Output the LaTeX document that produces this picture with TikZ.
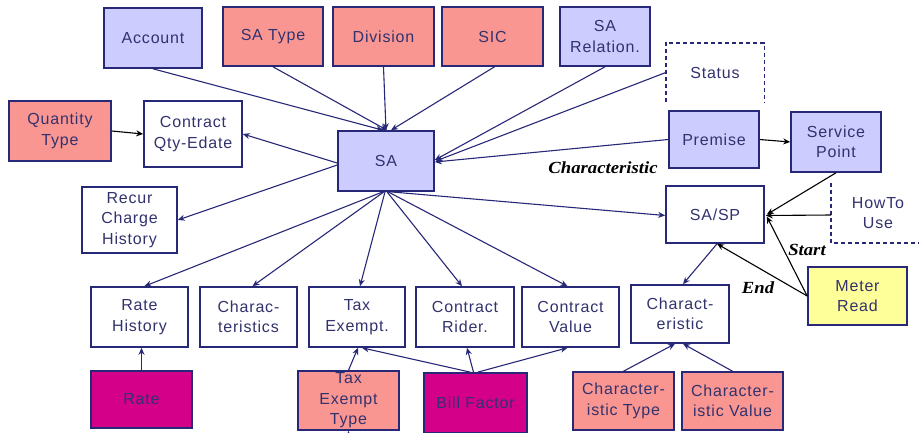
\documentclass[tikz,border=0pt]{standalone}
\usepackage{fontspec}
\setmainfont{Liberation Sans}[LetterSpace=5]
\newfontfamily\lblfont{Liberation Serif}
\usetikzlibrary{arrows.meta,calc}
\definecolor{navy}{RGB}{40,40,120}
\definecolor{txtc}{RGB}{50,50,110}
\definecolor{lav}{RGB}{204,204,255}
\definecolor{salm}{RGB}{250,150,145}
\definecolor{mag}{RGB}{212,0,138}
\definecolor{yel}{RGB}{255,255,153}
\tikzset{
  box/.style={draw=navy,line width=1.6pt,rectangle,align=center,text=txtc,
    font=\fontsize{16}{20.5}\selectfont,inner sep=0pt},
  lavbox/.style={box,fill=lav},
  salbox/.style={box,fill=salm},
  magbox/.style={box,fill=mag},
  yelbox/.style={box,fill=yel},
  whbox/.style={box,fill=white},
  plain/.style={rectangle,align=center,text=txtc,font=\fontsize{16}{20.5}\selectfont,inner sep=0pt},
  arr/.style={draw=navy,line width=1.1pt,-{Stealth[length=7pt,width=6pt]}},
  barr/.style={draw=black,line width=1.1pt,-{Stealth[length=7pt,width=6pt]}},
  dsh/.style={draw=navy,line width=1.4pt,dash pattern=on 4pt off 3pt},
  lbl/.style={font=\lblfont\bfseries\itshape\fontsize{17}{19}\selectfont,text=black,xscale=1.1,inner sep=0pt}
}
\begin{document}
\begin{tikzpicture}[x=1pt,y=-1pt]
\useasboundingbox[fill=white] (0,0) rectangle (919,432);
% top row
\node[lavbox,minimum width=98,minimum height=60] (acc) at (153,38) {Account};
\node[salbox,minimum width=100,minimum height=59] (sat) at (273,36.5) {SA Type};
\node[salbox,minimum width=101,minimum height=59] (div) at (383.5,36.5) {Division};
\node[salbox,minimum width=101,minimum height=59] (sic) at (492.5,36.5) {SIC};
\node[lavbox,minimum width=90,minimum height=59] (sar) at (605,36.5) {SA\\Relation.};
\node[plain,minimum width=98,minimum height=59] (st) at (715,72.5) {Status};
\draw[dsh] (st.south west) -- (st.north west) -- (st.north east) -- (st.south east);
% middle
\node[lavbox,minimum width=90,minimum height=57] (pre) at (714,139.5) {Premise};
\node[lavbox,minimum width=90,minimum height=60] (sp) at (836,142) {Service\\Point};
\node[salbox,minimum width=102,minimum height=60] (qt) at (60,131) {Quantity\\Type};
\node[whbox,minimum width=98,minimum height=66] (cqe) at (193,134) {Contract\\Qty-Edate};
\node[lavbox,minimum width=96,minimum height=60] (sa) at (386,161) {SA};
\node[whbox,minimum width=95,minimum height=66] (rch) at (129.5,220) {Recur\\Charge\\History};
\node[whbox,minimum width=98,minimum height=57] (sasp) at (715,214.5) {SA/SP};
\node[plain,minimum width=90,minimum height=60] (how) at (878,213) {HowTo\\Use};
\coordinate (howtl) at (831,183);
\coordinate (howbl) at (831,243);
\coordinate (howbr) at (925,243);
\coordinate (howin) at (831,215);
\draw[dsh] (howtl) -- (howbl) -- (howbr);
\node[yelbox,minimum width=99,minimum height=58] (mr) at (857.5,296) {Meter\\Read};
% lower row
\node[whbox,minimum width=97,minimum height=60] (rh) at (139.5,317) {Rate\\History};
\node[whbox,minimum width=97,minimum height=60] (chs) at (248.5,317) {Charac-\\teristics};
\node[whbox,minimum width=96,minimum height=60] (tx) at (357,317) {Tax\\Exempt.};
\node[whbox,minimum width=98,minimum height=60] (cr) at (465,317) {Contract\\Rider.};
\node[whbox,minimum width=97,minimum height=60] (cv) at (570.5,317) {Contract\\Value};
\node[whbox,minimum width=98,minimum height=58] (ch) at (680,314) {Charact-\\eristic};
% bottom row
\node[magbox,minimum width=101,minimum height=57] (rate) at (141.5,399.5) {Rate};
\node[salbox,minimum width=101,minimum height=59] (tet) at (348.5,400.5) {Tax\\Exempt\\Type};
\node[magbox,minimum width=103,minimum height=60] (bf) at (475.5,403) {Bill Factor};
\node[salbox,minimum width=101,minimum height=58] (ct) at (623.5,401) {Character-\\istic Type};
\node[salbox,minimum width=101,minimum height=58] (cval) at (732.5,401) {Character-\\istic Value};
% labels
\node[lbl] (lchar) at (603,168) {Characteristic};
\node[lbl] (lstart) at (807,250) {Start};
\node[lbl] (lend) at (758,288) {End};
% connectors into SA
\draw[arr] (acc.south) -- ($(sa.north)+(-3,0)$);
\draw[arr] (sat.south) -- ($(sa.north)+(1,0)$);
\draw[arr] (div.south) -- (sa.north);
\draw[arr] ($(sic.south)+(2,0)$) -- ($(sa.north)+(5,0)$);
\draw[arr] (sar.south) -- ($(sa.east)+(0,-1)$);
\draw[arr] (st.west) -- ($(sa.east)+(1,0)$);
\draw[arr] (pre.west) -- ($(sa.east)+(0,1)$);
% out of SA
\draw[arr] ($(sa.south)+(4,0)$) -- ($(sasp.west)+(0,1)$);
\draw[arr] ($(sa.west)+(0,2)$) -- (cqe.east);
\draw[arr] ($(sa.west)+(0,4)$) -- (rch.east);
\draw[arr] ($(sa.south)+(-3,0)$) -- ($(rh.north)+(5,0)$);
\draw[arr] ($(sa.south)+(-2,0)$) -- ($(chs.north)+(4,0)$);
\draw[arr] ($(sa.south)+(-1,0)$) -- ($(tx.north)+(3,0)$);
\draw[arr] ($(sa.south)+(1,0)$) -- ($(cr.north)+(-3,0)$);
\draw[arr] ($(sa.south)+(2,0)$) -- ($(cv.north)+(-3,0)$);
% black connectors
\draw[barr] (qt.east) -- (cqe.west);
\draw[barr] (pre.east) -- (sp.west);
\draw[barr] (sp.south) -- ($(sasp.east)+(2,0)$);
\draw[barr] (howin) -- ($(sasp.east)+(1,1)$);
\draw[barr] (mr.west) -- ($(sasp.east)+(2,2)$);
\draw[barr] (mr.west) -- ($(sasp.south)+(2,0)$);
% characteristic
\draw[arr] ($(sasp.south)+(2,0)$) -- ($(ch.north)+(3,0)$);
\draw[arr] (ct.north) -- ($(ch.south)+(-5,0)$);
\draw[arr] (cval.north) -- ($(ch.south)+(3,0)$);
% bottom row into lower row
\draw[arr] (rate.north) -- ($(rh.south)+(2,0)$);
\draw[arr] (tet.north) -- ($(tx.south)+(1,0)$);
\draw[arr] ($(bf.north)+(-5,0)$) -- ($(tx.south)+(5,0)$);
\draw[arr] ($(bf.north)+(-2,0)$) -- ($(cr.south)+(2,0)$);
\draw[arr] ($(bf.north)+(2,0)$) -- ($(cv.south)+(-3,0)$);
\coordinate (tetin) at (348.5,445);
\draw[arr] (tetin) -- (tet.south);
\end{tikzpicture}
\end{document}
